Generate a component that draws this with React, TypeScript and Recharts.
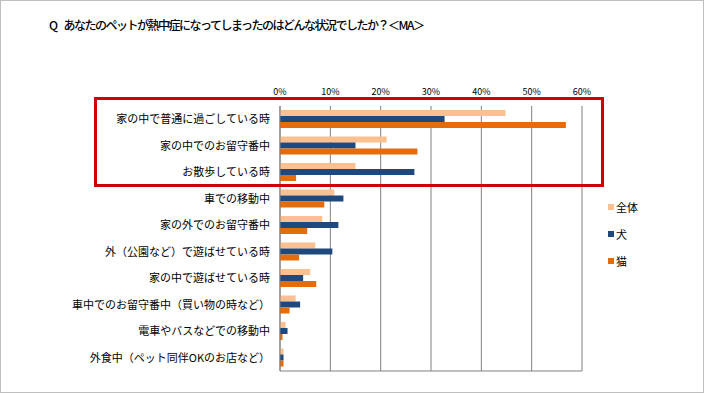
import React from 'react';
import { BarChart, Bar, XAxis, YAxis, CartesianGrid } from 'recharts';

const categories = [
  '家の中で普通に過ごしている時',
  '家の中でのお留守番中',
  'お散歩している時',
  '車での移動中',
  '家の外でのお留守番中',
  '外（公園など）で遊ばせている時',
  '家の中で遊ばせている時',
  '車中でのお留守番中（買い物の時など）',
  '電車やバスなどでの移動中',
  '外食中（ペット同伴OKのお店など）',
];

const allValues = [44.8, 21.2, 15.0, 10.8, 8.4, 7.0, 6.0, 3.1, 1.1, 0.7];
const dogValues = [32.7, 15.0, 26.7, 12.6, 11.6, 10.4, 4.6, 4.0, 1.5, 0.7];
const catValues = [56.8, 27.3, 3.2, 8.8, 5.4, 3.8, 7.2, 1.9, 0.5, 0.7];

const xTicks = [0, 10, 20, 30, 40, 50, 60];

const SERIES = [
  { key: 'all', name: '全体', color: '#FAC090' },
  { key: 'dog', name: '犬', color: '#1F497D' },
  { key: 'cat', name: '猫', color: '#E46C0A' },
];

const data = categories.map((name, i) => ({
  name,
  all: allValues[i],
  dog: dogValues[i],
  cat: catValues[i],
}));

const FONT = '"Noto Sans CJK JP", "Noto Sans", sans-serif';

const App: React.FC = () => {
  return (
    <div
      style={{
        position: 'absolute',
        left: 0,
        top: 0,
        width: 704,
        height: 393,
        boxSizing: 'border-box',
        border: '1px solid #BFBFBF',
        background: '#fff',
        fontFamily: FONT,
      }}
    >
      <div
        style={{
          position: 'absolute',
          left: 48,
          top: 15,
          fontSize: 12,
          letterSpacing: -1.5,
          fontWeight: 500,
          color: '#000',
          whiteSpace: 'nowrap',
        }}
      >
        <span style={{ marginRight: 7 }}>Q</span>
        あなたのペットが熱中症になってしまったのはどんな状況でしたか？＜MA＞
      </div>
      <div style={{ position: 'absolute', left: -1, top: -1 }}>
        <BarChart
          width={704}
          height={393}
          data={data}
          layout="vertical"
          margin={{ top: 86, right: 122, bottom: 21, left: 0 }}
          barSize={6}
          barGap={0}
          barCategoryGap="16%"
        >
          <CartesianGrid horizontal={false} stroke="#808080" strokeWidth={1} />
          <XAxis
            type="number"
            orientation="top"
            domain={[0, 60]}
            ticks={xTicks}
            tickFormatter={(v) => `${v}%`}
            axisLine={false}
            tickLine={false}
            tickSize={0}
            tickMargin={11}
            height={20}
            interval={0}
            tick={{ fontSize: 9, fill: '#000', fontFamily: FONT }}
          />
          <XAxis
            xAxisId="bottom"
            type="number"
            orientation="bottom"
            domain={[0, 60]}
            tick={false}
            tickLine={false}
            height={1}
            stroke="#808080"
          />
          <YAxis
            type="category"
            dataKey="name"
            width={280}
            axisLine={{ stroke: '#808080' }}
            tickLine={false}
            tickSize={0}
            tickMargin={10}
            interval={0}
            tick={{ fontSize: 11, fill: '#000', fontFamily: FONT }}
          />
          {SERIES.map((s) => (
            <Bar key={s.key} dataKey={s.key} name={s.name} fill={s.color} isAnimationActive={false} />
          ))}
        </BarChart>
      </div>
      <div style={{ position: 'absolute', left: 607, top: 192, fontSize: 11, color: '#000' }}>
        {SERIES.map((s) => (
          <div key={s.key} style={{ display: 'flex', alignItems: 'center', height: 27 }}>
            <span style={{ width: 6, height: 6, background: s.color, display: 'inline-block', marginRight: 2 }} />
            <span>{s.name}</span>
          </div>
        ))}
      </div>
      <div
        style={{
          position: 'absolute',
          left: 93,
          top: 96,
          width: 510,
          height: 90,
          boxSizing: 'border-box',
          border: '3px solid #D00000',
          pointerEvents: 'none',
        }}
      />
    </div>
  );
};

export default App;
